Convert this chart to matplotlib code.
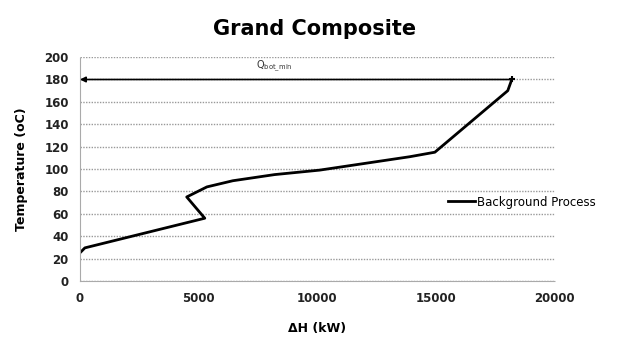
import matplotlib.pyplot as plt

# Grand composite curve
dH = [0, 210, 5260, 4500, 5350, 6440, 8200, 10100, 13900, 14950, 18020, 18190]
temp = [25, 29.5, 56, 75, 84, 89.5, 95, 99, 111, 115, 170, 180]

q_bot_min = 18190
t_q = 180

fig = plt.figure(figsize=(6.29, 3.38), dpi=100)
ax = fig.add_axes([0.127, 0.169, 0.755, 0.662])

ax.plot(dH, temp, color='black', linewidth=2, label='Background Process')

ax.annotate('', xy=(0, t_q), xytext=(q_bot_min, t_q),
            arrowprops=dict(arrowstyle='-|>', color='black', lw=1.2,
                            mutation_scale=8, shrinkA=0, shrinkB=0))
ax.plot([q_bot_min], [t_q], marker='+', color='black', markersize=5, mew=1.5)
ax.text(8200, 185, r'Q$_{\mathregular{bot\_min}}$', fontsize=7, ha='center',
        va='bottom', color='#333333')

ax.set_xlim(0, 20000)
ax.set_ylim(0, 200)
ax.set_xticks([0, 5000, 10000, 15000, 20000])
ax.set_yticks(range(0, 201, 20))
ax.yaxis.grid(True, color='#999999', linestyle=(0, (1, 1)), linewidth=1)
ax.set_axisbelow(True)
for s in ['top', 'right']:
    ax.spines[s].set_visible(False)
for s in ['left', 'bottom']:
    ax.spines[s].set_color('#aaaaaa')
    ax.spines[s].set_linestyle((0, (1, 1)))
ax.tick_params(length=0, labelsize=8.5, colors='#222222', pad=8)
for lb in ax.get_xticklabels() + ax.get_yticklabels():
    lb.set_fontweight('semibold')
ax.set_xlabel('ΔH (kW)', fontsize=9, fontweight='bold', labelpad=12)
ax.set_ylabel('Temperature (oC)', fontsize=9, fontweight='bold', labelpad=12)
fig.suptitle('Grand Composite', fontsize=15, fontweight='bold', x=0.5, y=0.945)

fig.legend(loc='center left', bbox_to_anchor=(0.695, 0.402), frameon=False,
           fontsize=8.5, handlelength=2.3, handletextpad=0.2)

fig.savefig('out.png', dpi=100)
